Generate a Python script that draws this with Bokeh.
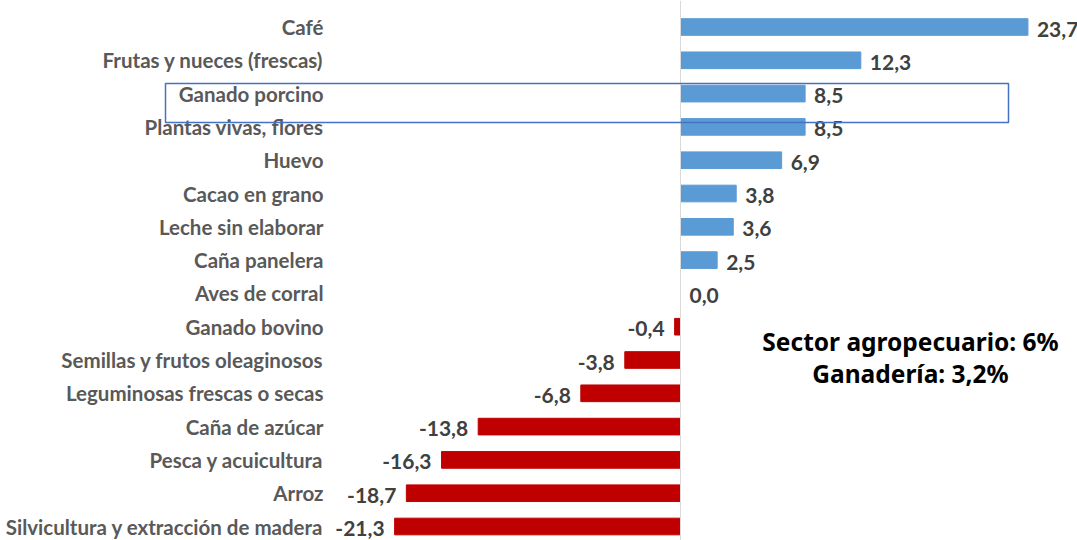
from bokeh.plotting import figure
from bokeh.models import ColumnDataSource, Range1d, Span, BoxAnnotation, Label
from bokeh.core.properties import value
from bokeh.embed import file_html
from bokeh.resources import INLINE

categories = [
    "Café", "Frutas y nueces (frescas)", "Ganado porcino", "Plantas vivas, flores",
    "Huevo", "Cacao en grano", "Leche sin elaborar", "Caña panelera",
    "Aves de corral", "Ganado bovino", "Semillas y frutos oleaginosos",
    "Leguminosas frescas o secas", "Caña de azúcar", "Pesca y acuicultura",
    "Arroz", "Silvicultura y extracción de madera",
]
values = [23.7, 12.3, 8.5, 8.5, 6.9, 3.8, 3.6, 2.5, 0.0, -0.4, -3.8, -6.8,
          -13.8, -16.3, -18.7, -21.3]
value_labels = [f"{v:.1f}".replace(".", ",") for v in values]
highlight = "Ganado porcino"
summary_lines = ["Sector agropecuario: 6%", "Ganadería: 3,2%"]

POS = "#5B9BD5"
NEG = "#C00000"
AXIS_MIN = -19.5       # value axis minimum of the original chart (bars are clipped there)
W, H = 1077, 540
scale = 14.66          # px per unit
zero_px = 680          # zero position
row0_px = 26.5         # first row centre
row_px = 33.3

idx = list(range(len(categories)))
colors = [POS if v >= 0 else NEG for v in values]
drawn = [max(v, AXIS_MIN) for v in values]

p = figure(width=W, height=H, output_backend="svg", toolbar_location=None,
           x_axis_type=None, y_axis_type=None, min_border=0,
           x_range=Range1d(-zero_px / scale, (W - zero_px) / scale),
           y_range=Range1d((H - row0_px) / row_px, -row0_px / row_px))
p.outline_line_color = None
p.grid.visible = False

p.add_layout(Span(location=0, dimension="height", line_color="#D9D9D9", line_width=1))

src = ColumnDataSource(dict(y=idx, v=drawn, c=colors))
p.hbar(y="y", left=0, right="v", height=0.5, fill_color="c", line_color="c", source=src)

label_x = (323 - zero_px) / scale
cat_src = ColumnDataSource(dict(x=[label_x] * len(categories), y=idx, t=categories))
p.text(x="x", y="y", text="t", source=cat_src, text_align="right", text_baseline="middle",
       text_font=value("Lato"), text_font_style="bold", text_font_size="20.5px",
       text_color="#595959")

pos_src = ColumnDataSource(dict(x=[d for d, v in zip(drawn, values) if v >= 0],
                                y=[i for i, v in zip(idx, values) if v >= 0],
                                t=[l for l, v in zip(value_labels, values) if v >= 0]))
neg_src = ColumnDataSource(dict(x=[d for d, v in zip(drawn, values) if v < 0],
                                y=[i for i, v in zip(idx, values) if v < 0],
                                t=[l for l, v in zip(value_labels, values) if v < 0]))
for s, align, off in ((pos_src, "left", 9), (neg_src, "right", -10)):
    p.text(x="x", y="y", text="t", source=s, text_align=align, text_baseline="middle",
           x_offset=off, y_offset=2,
           text_font=value("Lato"), text_font_style="bold", text_font_size="21px",
           text_color="#404040")

hi = categories.index(highlight)
p.add_layout(BoxAnnotation(left=(165 - zero_px) / scale, right=(1008 - zero_px) / scale,
                           top=(83 - row0_px) / row_px, bottom=(122 - row0_px) / row_px,
                           fill_color=None, fill_alpha=0, line_color="#4472C4",
                           line_alpha=1, line_width=1.5))

for k, line in enumerate(summary_lines):
    p.add_layout(Label(x=910, y=H - (341 + 32 * k), x_units="screen", y_units="screen",
                       text=line, text_align="center", text_baseline="middle",
                       text_font="Noto Sans", text_font_style="bold",
                       text_font_size="24.5px", text_color="#000000"))

open("out.html", "w").write(file_html(p, INLINE))
